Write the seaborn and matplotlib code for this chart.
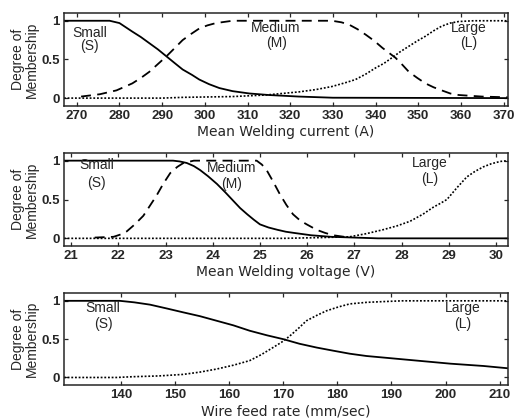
import numpy as np
import pandas as pd
import matplotlib
matplotlib.use("Agg")
import matplotlib.pyplot as plt
import seaborn as sns

# --- current (A) ---
cur_small_x = [267, 277.7, 280, 283, 285, 287, 289, 291, 293, 294.8, 297, 298.7, 301, 303.4, 306.5, 310.4,
               315, 322, 330, 371]
cur_small_y = [1, 1, 0.97, 0.86, 0.79, 0.71, 0.63, 0.54, 0.45, 0.37, 0.3, 0.24, 0.18, 0.13, 0.09, 0.06,
               0.04, 0.02, 0.005, 0]
cur_med_x = [271, 275.4, 279.3, 283, 285, 287, 289, 291, 293, 294.8, 296.8, 298.7, 300.6, 302.6, 306.5,
             329.8, 332, 333.8, 335.8, 337.7, 339.7, 341.6, 344.7, 346.3, 347.8, 349.8, 351.7, 353.6,
             355.5, 357.5, 359.5, 364.9, 371]
cur_med_y = [0.02, 0.05, 0.1, 0.19, 0.26, 0.34, 0.44, 0.54, 0.65, 0.75, 0.83, 0.9, 0.94, 0.97, 1.0,
             1.0, 0.98, 0.95, 0.89, 0.82, 0.74, 0.65, 0.52, 0.43, 0.34, 0.26, 0.19, 0.14,
             0.1, 0.06, 0.04, 0.02, 0.01]
cur_large_x = [267, 290, 295, 306.5, 314.3, 322, 326, 329.8, 333, 335.3, 337.7, 340, 342, 343.8, 345.8,
               347.8, 349.8, 351.7, 353.6, 355.5, 357.5, 359.5, 363, 371]
cur_large_y = [0, 0, 0.01, 0.02, 0.04, 0.08, 0.11, 0.15, 0.2, 0.24, 0.31, 0.39, 0.45, 0.52, 0.6,
               0.67, 0.74, 0.8, 0.87, 0.93, 0.97, 0.99, 1.0, 1.0]

# --- voltage (V) ---
vol_small_x = [20.85, 23.16, 23.3, 23.45, 23.6, 23.73, 23.9, 24.09, 24.27, 24.44, 24.58, 24.73, 24.87, 25.0,
               25.18, 25.37, 25.55, 25.72, 26.08, 26.5, 27, 27.5, 30.25]
vol_small_y = [1, 1, 0.99, 0.97, 0.93, 0.88, 0.8, 0.7, 0.59, 0.48, 0.39, 0.31, 0.24, 0.18,
               0.14, 0.11, 0.085, 0.07, 0.04, 0.02, 0.01, 0, 0]
vol_med_x = [21.5, 21.9, 22.05, 22.18, 22.35, 22.53, 22.67, 22.81, 22.95, 23.1, 23.25, 23.38, 23.6, 24.93,
             25.04, 25.14, 25.28, 25.42, 25.56, 25.7, 25.85, 25.99, 26.2, 26.38, 26.55, 26.9]
vol_med_y = [0.01, 0.02, 0.05, 0.09, 0.18, 0.29, 0.42, 0.55, 0.7, 0.84, 0.92, 0.97, 1.0, 1.0,
             0.95, 0.88, 0.73, 0.57, 0.43, 0.31, 0.23, 0.18, 0.11, 0.07, 0.04, 0.01]
vol_large_x = [20.85, 25.5, 26.3, 26.9, 27.25, 27.6, 27.9, 28.18, 28.45, 28.67, 28.82, 28.96, 29.17, 29.38,
               29.55, 29.73, 29.9, 30.09, 30.25]
vol_large_y = [0, 0, 0.01, 0.02, 0.06, 0.11, 0.16, 0.22, 0.31, 0.4, 0.45, 0.5, 0.65, 0.79,
               0.86, 0.92, 0.96, 0.99, 1.0]

# --- wire feed rate (mm/sec) ---
wfr_small_x = [129.5, 139.8, 142.5, 145.4, 148.5, 151.5, 154.6, 157.7, 160.8, 163.8, 167, 170, 173, 176.2,
               179.2, 182.3, 185.4, 188.5, 194.7, 200.9, 207, 211.5]
wfr_small_y = [1, 1, 0.98, 0.95, 0.9, 0.85, 0.8, 0.74, 0.68, 0.61, 0.55, 0.5, 0.44, 0.39,
               0.35, 0.31, 0.28, 0.26, 0.22, 0.18, 0.15, 0.12]
wfr_large_x = [129.5, 139.2, 142.2, 147, 151.5, 154.6, 157.7, 160.8, 163.8, 166, 168.1, 169.7, 171.2, 172.8,
               174.3, 176.2, 178, 180.2, 182.3, 185.4, 188.5, 192, 211.5]
wfr_large_y = [0, 0, 0.01, 0.02, 0.04, 0.07, 0.11, 0.16, 0.22, 0.3, 0.39, 0.46, 0.54, 0.64,
               0.74, 0.81, 0.87, 0.92, 0.96, 0.98, 0.99, 1.0, 1.0]

sns.set_style("ticks")
plt.rcParams['font.family'] = ['Liberation Sans', 'DejaVu Sans']

fig = plt.figure(figsize=(5.14, 4.2), dpi=100)
boxes = [[0.1245, 0.748, 0.8635, 0.221],
         [0.1245, 0.414, 0.8635, 0.222],
         [0.1245, 0.083, 0.8635, 0.219]]
styles = {"S": dict(ls="-", lw=1.3),
          "M": dict(ls=(0, (5.5, 3.5)), lw=1.3),
          "L": dict(ls=(0, (1.1, 1.1)), lw=1.2)}

# label: x, y of word, y of abbreviation, word, abbreviation
panels = [
    dict(xlim=(267, 371), xticks=range(270, 371, 10), xlabel="Mean Welding current (A)",
         curves=[("S", cur_small_x, cur_small_y), ("M", cur_med_x, cur_med_y), ("L", cur_large_x, cur_large_y)],
         labels=[(273, 0.84, 0.67, "Small", "(S)"), (316.7, 0.9, 0.71, "Medium", "(M)"),
                 (361.8, 0.9, 0.71, "Large", "(L)")]),
    dict(xlim=(20.85, 30.25), xticks=range(21, 31), xlabel="Mean Welding voltage (V)",
         curves=[("S", vol_small_x, vol_small_y), ("M", vol_med_x, vol_med_y), ("L", vol_large_x, vol_large_y)],
         labels=[(21.54, 0.94, 0.71, "Small", "(S)"), (24.4, 0.9, 0.7, "Medium", "(M)"),
                 (28.6, 0.97, 0.77, "Large", "(L)")]),
    dict(xlim=(129.5, 211.5), xticks=range(140, 211, 10), xlabel="Wire feed rate (mm/sec)",
         curves=[("S", wfr_small_x, wfr_small_y), ("L", wfr_large_x, wfr_large_y)],
         labels=[(136.7, 0.91, 0.7, "Small", "(S)"), (203.2, 0.91, 0.7, "Large", "(L)")]),
]

for box, p in zip(boxes, panels):
    ax = fig.add_axes(box)
    for key, xs, ys in p["curves"]:
        df = pd.DataFrame({"x": xs, "y": ys})
        sns.lineplot(data=df, x="x", y="y", ax=ax, color="black", **styles[key])
    for lx, y1, y2, word, abbr in p["labels"]:
        ax.text(lx, y1, word, ha="center", va="center", fontsize=10)
        ax.text(lx, y2, abbr, ha="center", va="center", fontsize=10)
    ax.set_xlim(*p["xlim"])
    ax.set_ylim(-0.1, 1.1)
    ax.set_xticks(list(p["xticks"]))
    ax.set_yticks([0, 0.5, 1])
    ax.set_yticklabels(["0", "0.5", "1"])
    ax.tick_params(direction="in", top=True, right=True, length=3, width=0.9, labelsize=9.5, pad=3)
    for lab in ax.get_xticklabels() + ax.get_yticklabels():
        lab.set_fontweight("bold")
    for sp in ax.spines.values():
        sp.set_linewidth(1.1)
    ax.set_xlabel(p["xlabel"], fontsize=10, labelpad=2, family=['DejaVu Sans'])
    ax.set_ylabel("Degree of\nMembership", fontsize=10, labelpad=2, linespacing=1.0)

fig.savefig("out.png", dpi=100)
